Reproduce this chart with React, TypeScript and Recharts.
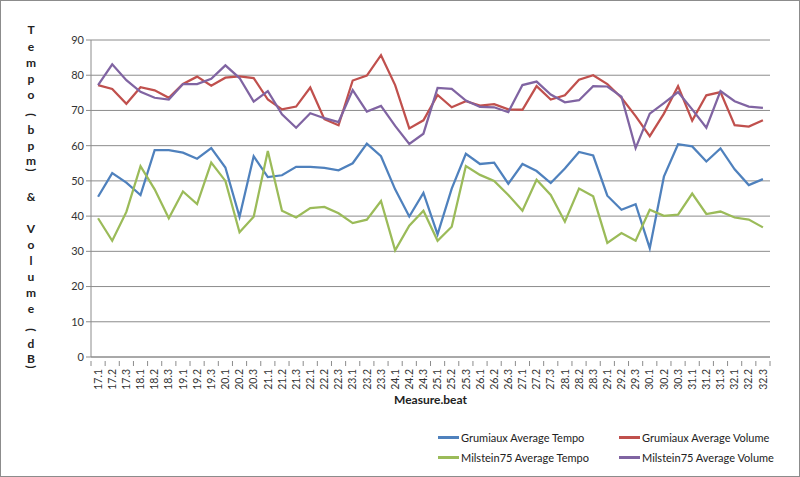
import React from "react";
import { LineChart, Line, XAxis, YAxis, CartesianGrid } from "recharts";

// measure.beat categories
const beats = [
  "17.1", "17.2", "17.3", "18.1", "18.2", "18.3", "19.1", "19.2", "19.3",
  "20.1", "20.2", "20.3", "21.1", "21.2", "21.3", "22.1", "22.2", "22.3",
  "23.1", "23.2", "23.3", "24.1", "24.2", "24.3", "25.1", "25.2", "25.3",
  "26.1", "26.2", "26.3", "27.1", "27.2", "27.3", "28.1", "28.2", "28.3",
  "29.1", "29.2", "29.3", "30.1", "30.2", "30.3", "31.1", "31.2", "31.3",
  "32.1", "32.2", "32.3",
];

const grumiauxTempo = [
  45.5, 52.2, 49.5, 46, 58.7, 58.7, 58, 56.3, 59.3, 53.8, 39.8, 57,
  51.1, 51.6, 54, 54, 53.7, 53, 55, 60.6, 57, 47.6, 39.9, 46.6,
  34.8, 47.8, 57.7, 54.8, 55.2, 49.2, 54.8, 52.8, 49.4, 53.5, 58.2, 57.2,
  45.8, 41.8, 43.4, 30.9, 51.2, 60.4, 59.8, 55.5, 59.2, 53.3, 48.8, 50.5,
];

const grumiauxVolume = [
  77.2, 76.1, 71.9, 76.6, 75.7, 73.6, 77.5, 79.6, 77, 79.3, 79.7, 79.2,
  73.1, 70.3, 71.1, 76.5, 67.5, 65.8, 78.5, 79.9, 85.7, 77.2, 64.9, 67.2,
  74.4, 70.9, 72.6, 71.4, 71.8, 70.3, 70.2, 76.9, 73.1, 74.3, 78.7, 80,
  77.5, 73.6, 68.4, 62.7, 69.1, 76.9, 67.1, 74.3, 75.2, 65.8, 65.4, 67.2,
];

const milsteinTempo = [
  39.4, 33, 41.2, 54.2, 47.6, 39.4, 47, 43.4, 55.2, 50, 35.4, 39.8,
  58.5, 41.5, 39.6, 42.3, 42.6, 40.8, 38, 39, 44.3, 30.3, 37.3, 41.5,
  33, 37, 54.2, 51.7, 50, 46, 41.5, 50.3, 46, 38.4, 47.8, 45.6,
  32.4, 35.2, 33, 41.8, 40.1, 40.4, 46.4, 40.6, 41.3, 39.6, 39, 36.8,
];

const milsteinVolume = [
  77.2, 83.1, 78.6, 75.3, 73.6, 73.1, 77.5, 77.5, 79, 82.8, 79.2, 72.5,
  75.5, 68.9, 65.1, 69.2, 67.8, 66.7, 75.8, 69.7, 71.3, 65.6, 60.5, 63.4,
  76.4, 76.1, 72.8, 71, 70.9, 69.5, 77.2, 78.2, 74.5, 72.3, 72.9, 76.9,
  76.8, 73.9, 59.3, 69.1, 72.1, 75.2, 70.3, 65.1, 75.5, 72.6, 71.1, 70.7,
];

const yTicks = [0, 10, 20, 30, 40, 50, 60, 70, 80, 90];

const series = [
  { key: "gt", name: "Grumiaux Average Tempo", color: "#4F81BD" },
  { key: "gv", name: "Grumiaux Average Volume", color: "#C0504D" },
  { key: "mt", name: "Milstein75 Average Tempo", color: "#9BBB59" },
  { key: "mv", name: "Milstein75 Average Volume", color: "#8064A2" },
];

const data = beats.map((b, i) => ({
  beat: b,
  gt: grumiauxTempo[i],
  gv: grumiauxVolume[i],
  mt: milsteinTempo[i],
  mv: milsteinVolume[i],
}));

const FONT = "Lato, 'Open Sans', sans-serif";

// stacked (one char per line) axis title, like Excel's stacked orientation
const titleChars = "Tempo (bpm) & Volume (dB)".split("");
const titleY = [
  29, 46, 62, 78, 94, 0, 115, 129, 145, 160, 170, 0, 196, 0,
  228, 244, 260, 276, 292, 308, 0, 330, 343, 358, 367,
];

const YTitle = () => (
  <g>
    {titleChars.map((c, i) => {
      if (c === " ") return null;
      const isParen = c === "(" || c === ")";
      return (
        <text
          key={i}
          x={31}
          y={titleY[i]}
          textAnchor="middle"
          dominantBaseline="central"
          fontFamily={FONT}
          fontWeight={700}
          fontSize={12}
          fill="#222"
          transform={isParen ? `rotate(90 31 ${titleY[i]})` : undefined}
        >
          {c}
        </text>
      );
    })}
  </g>
);

const STEP = 679 / 48;

const BeatTick = (props: any) => {
  const { x, y, payload, index } = props;
  return (
    <g>
      <line x1={x - STEP / 2} x2={x - STEP / 2} y1={y - 4} y2={y + 1} stroke="#8c8c8c" />
      {index === beats.length - 1 && (
        <line x1={x + STEP / 2} x2={x + STEP / 2} y1={y - 4} y2={y + 1} stroke="#8c8c8c" />
      )}
      <text
        transform={`translate(${x},${y + 4}) rotate(-90)`}
        textAnchor="end"
        dy="0.35em"
        fontFamily={FONT}
        fontSize={10.5}
        fill="#333"
      >
        {payload.value}
      </text>
    </g>
  );
};

const LegendBox = () => (
  <div
    style={{
      position: "absolute",
      left: 437,
      top: 428,
      fontFamily: FONT,
      fontSize: 11,
      color: "#222",
      display: "grid",
      gridTemplateColumns: "181px 181px",
      rowGap: 4,
    }}
  >
    {series.map((s) => (
      <div key={s.key} style={{ display: "flex", alignItems: "center", height: 16 }}>
        <span
          style={{
            display: "inline-block",
            width: 21,
            height: 3,
            background: s.color,
            marginRight: 2,
          }}
        />
        {s.name}
      </div>
    ))}
  </div>
);

export default function App() {
  return (
    <div
      style={{
        position: "absolute",
        left: 0,
        top: 0,
        width: 800,
        height: 477,
        background: "#fff",
        border: "1px solid #8c8c8c",
        boxSizing: "border-box",
      }}
    >
      <div style={{ position: "absolute", left: -1, top: -1 }}>
        <LineChart
          width={800}
          height={477}
          data={data}
          margin={{ top: 40, right: 30, left: 0, bottom: 0 }}
        >
          <CartesianGrid vertical={false} stroke="#8c8c8c" strokeWidth={1} />
          <XAxis
            dataKey="beat"
            interval={0}
            height={120}
            padding={{ left: STEP / 2, right: STEP / 2 }}
            axisLine={{ stroke: "#8c8c8c" }}
            tickLine={false}
            tick={<BeatTick />}
            label={{
              value: "Measure.beat",
              position: "insideTop",
              offset: 38,
              style: { fontFamily: FONT, fontWeight: 700, fontSize: 12, fill: "#222" },
            }}
          />
          <YAxis
            width={91}
            domain={[0, 90]}
            ticks={yTicks}
            interval={0}
            axisLine={{ stroke: "#8c8c8c" }}
            tickLine={{ stroke: "#8c8c8c" }}
            tickSize={5}
            tick={{ fontFamily: FONT, fontSize: 11, fill: "#333" }}
            label={{ content: () => <YTitle /> }}
          />
          {series.map((s) => (
            <Line
              key={s.key}
              type="linear"
              dataKey={s.key}
              name={s.name}
              stroke={s.color}
              strokeWidth={2.25}
              dot={false}
              isAnimationActive={false}
            />
          ))}
        </LineChart>
      </div>
      <LegendBox />
    </div>
  );
}
